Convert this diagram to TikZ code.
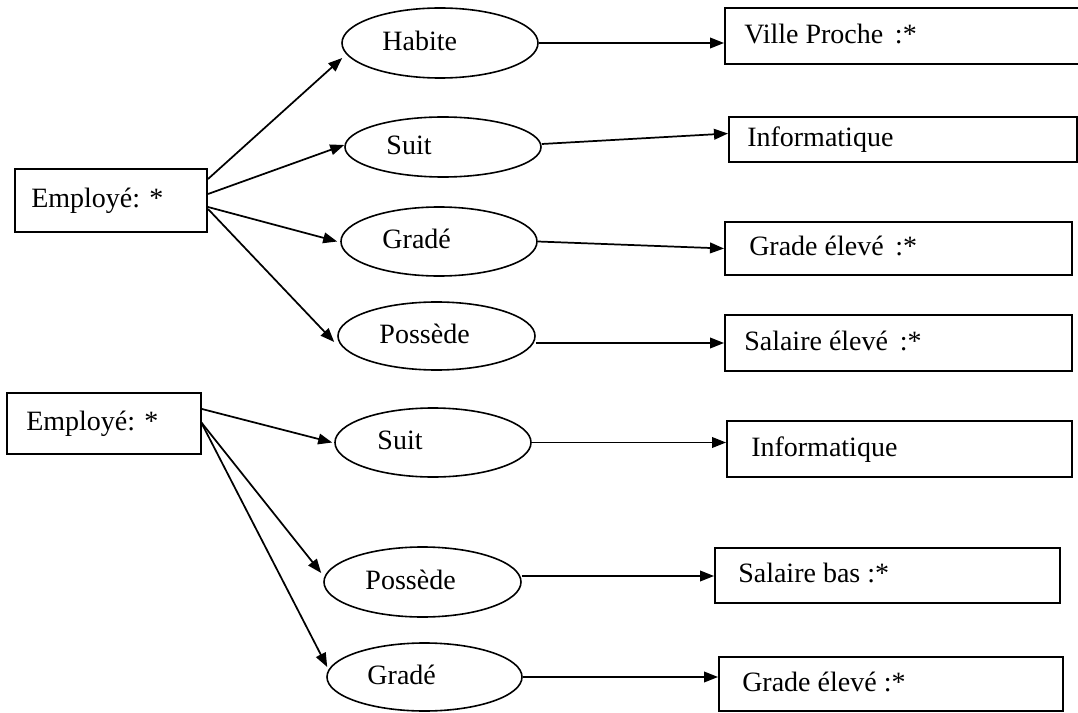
\documentclass[tikz,border=0pt]{standalone}
\usepackage{fontspec}
\setmainfont{Liberation Serif}
\usetikzlibrary{arrows.meta,calc,shapes.geometric}
\begin{document}
\begin{tikzpicture}[x=0.75pt,y=-0.75pt,
  sz/.style 2 args={minimum width=#1*0.75pt, minimum height=#2*0.75pt},
  box/.style={draw, line width=1.5pt, rectangle, inner sep=0pt},
  ell/.style={draw, line width=1.2pt, ellipse, inner sep=0pt},
  tx/.style={anchor=base west, inner sep=0pt, xshift=#1, yshift=-5.6pt, font=\fontsize{21}{25}\selectfont},
  arr/.style={line width=1.3pt, -{Triangle[length=10.5pt,width=8pt]}}
]
\useasboundingbox (0,0) rectangle (1078,713);

% top group
\node[box, sz={192}{63}, label={[tx=12.75pt]west:{Employé: *}}] (e1) at (111,200.5) {};
\node[ell, sz={196}{70}, label={[tx=30.75pt]west:{Habite}}] (hab) at (440,43) {};
\node[ell, sz={196}{60}, label={[tx=31.5pt]west:{Suit}}] (suit1) at (443,147) {};
\node[ell, sz={196}{69}, label={[tx=31.5pt]west:{Gradé}}] (grad1) at (439,241.5) {};
\node[ell, sz={197}{68}, label={[tx=31.5pt]west:{Possède}}] (pos1) at (436.5,336) {};
\node[box, sz={360}{56}, label={[tx=15pt]west:{Ville Proche\,\ :*}}] (ville) at (905,36) {};
\node[box, sz={348}{45}, label={[tx=14.25pt]west:{Informatique}}] (info1) at (903,139.5) {};
\node[box, sz={347}{53}, label={[tx=18.75pt]west:{Grade élevé\, :*}}] (grade1) at (898.5,248.5) {};
\node[box, sz={347}{56}, label={[tx=15pt]west:{Salaire élevé\, :*}}] (sal1) at (898.5,343) {};

% bottom group
\node[box, sz={194}{61}, label={[tx=15pt]west:{Employé: *}}] (e2) at (104,423.5) {};
\node[ell, sz={196}{69}, label={[tx=32.25pt]west:{Suit}}] (suit2) at (433,442.5) {};
\node[ell, sz={197}{70}, label={[tx=31.5pt]west:{Possède}}] (pos2) at (422.5,582) {};
\node[ell, sz={195}{68}, label={[tx=30.75pt]west:{Gradé}}] (grad2) at (424.5,677) {};
\node[box, sz={345}{56}, label={[tx=18.75pt]west:{Informatique}}] (info2) at (899.5,449) {};
\node[box, sz={345}{55}, label={[tx=18pt]west:{Salaire bas :*}}] (salb) at (887.5,575.5) {};
\node[box, sz={344}{54}, label={[tx=18pt]west:{Grade élevé :*}}] (grade2) at (891,684) {};

% top connectors
\draw[arr] ($(e1.north east)+(0,11)$) -- ($(hab.west)+(1,15)$);
\draw[arr] ($(e1.north east)+(0,26)$) -- ($(suit1.west)+(0,-2)$);
\draw[arr] ($(e1.north east)+(0,39)$) -- ($(grad1.west)+(-3,0)$);
\draw[arr] ($(e1.north east)+(0,41)$) -- ($(pos1.west)+(-3,6)$);
\draw[arr] (hab.east) -- (hab.east -| ville.west);
\draw[arr] ($(suit1.east)+(0,-3)$) -- ($(info1.west)+(0,-6)$);
\draw[arr] (grad1.east) -- (grade1.west);
\coordinate (p1) at ($(pos1.east)+(0,7)$);
\draw[arr] (p1) -- (p1 -| sal1.west);

% bottom connectors
\draw[arr] ($(e2.north east)+(0,17)$) -- ($(suit2.west)+(-2,0)$);
\coordinate (s2) at ($(e2.north east)+(-1,30)$);
\draw[arr] (s2) -- ($(pos2.west)+(-2,-9)$);
\draw[arr] (s2) -- ($(grad2.west)+(1,-10)$);
\draw[arr] (suit2.east) -- (suit2.east -| info2.west);
\coordinate (p2) at ($(pos2.east)+(0,-6)$);
\draw[arr] (p2) -- (p2 -| salb.west);
\draw[arr] (grad2.east) -- (grad2.east -| grade2.west);
\end{tikzpicture}
\end{document}
